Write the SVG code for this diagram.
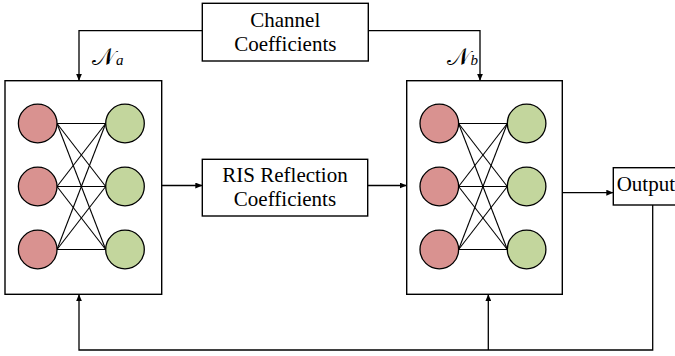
<svg xmlns="http://www.w3.org/2000/svg" width="675" height="356" viewBox="0 0 675 356">
  <defs>
    <marker id="arrow" markerWidth="7" markerHeight="6" refX="7" refY="3" orient="auto" markerUnits="userSpaceOnUse">
      <path d="M0,0 L7,3 L0,6 Z" fill="#000"/>
    </marker>
    <style>
      .box { fill: #fff; stroke: #000; stroke-width: 1.4; }
      .wire { fill: none; stroke: #000; stroke-width: 1.3; }
      .edge { stroke: #000; stroke-width: 1.1; }
      .in { fill: #d99290; stroke: #000; stroke-width: 1.3; }
      .out { fill: #c3d69d; stroke: #000; stroke-width: 1.3; }
      .label { font-family: "Liberation Serif", "Times New Roman", serif; font-size: 21px; fill: #000; text-anchor: middle; }
      .math { font-family: "DejaVu Serif", "Liberation Serif", serif; font-size: 24px; fill: #000; }
      .sub { font-family: "Liberation Serif", serif; font-size: 15px; font-style: italic; }
    </style>
    <!-- one fully connected 3x3 layer, drawn at the origin of its container -->
    <g id="layer">
      <g class="edge">
        <line x1="52" y1="42.5" x2="100.7" y2="42.5"/>
        <line x1="52" y1="42.5" x2="100.7" y2="105.5"/>
        <line x1="52" y1="42.5" x2="100.7" y2="168.5"/>
        <line x1="52" y1="105.5" x2="100.7" y2="42.5"/>
        <line x1="52" y1="105.5" x2="100.7" y2="105.5"/>
        <line x1="52" y1="105.5" x2="100.7" y2="168.5"/>
        <line x1="52" y1="168.5" x2="100.7" y2="42.5"/>
        <line x1="52" y1="168.5" x2="100.7" y2="105.5"/>
        <line x1="52" y1="168.5" x2="100.7" y2="168.5"/>
      </g>
      <circle class="in" cx="32.7" cy="42.5" r="19.3"/>
      <circle class="in" cx="32.7" cy="105.5" r="19.3"/>
      <circle class="in" cx="32.7" cy="168.5" r="19.3"/>
      <circle class="out" cx="120" cy="42.5" r="19.3"/>
      <circle class="out" cx="120" cy="105.5" r="19.3"/>
      <circle class="out" cx="120" cy="168.5" r="19.3"/>
    </g>
  </defs>

  <g id="connectors">
    <!-- channel coefficients feed both networks -->
    <polyline class="wire" points="202.3,30.7 79,30.7 79,80.7" marker-end="url(#arrow)"/>
    <polyline class="wire" points="368.3,30.7 480,30.7 480,80.7" marker-end="url(#arrow)"/>
    <!-- forward path -->
    <line class="wire" x1="161.7" y1="185.5" x2="202.3" y2="185.5" marker-end="url(#arrow)"/>
    <line class="wire" x1="367.7" y1="185.5" x2="406.7" y2="185.5" marker-end="url(#arrow)"/>
    <line class="wire" x1="562.3" y1="192.7" x2="613.3" y2="192.7" marker-end="url(#arrow)"/>
    <!-- feedback loop -->
    <polyline class="wire" points="652.7,205 652.7,350 79,350 79,294.3" marker-end="url(#arrow)"/>
    <line class="wire" x1="488.3" y1="350" x2="488.3" y2="294.3" marker-end="url(#arrow)"/>
  </g>

  <g id="channel">
    <rect class="box" x="202.3" y="3.3" width="166" height="57.7"/>
    <text class="label" x="285.3" y="26.7">Channel</text>
    <text class="label" x="285.3" y="50.7">Coefficients</text>
  </g>

  <g id="ris">
    <rect class="box" x="202.3" y="159.3" width="165.4" height="56.7"/>
    <text class="label" x="285" y="181.7">RIS Reflection</text>
    <text class="label" x="285" y="206">Coefficients</text>
  </g>

  <g id="net-a">
    <rect class="box" x="5" y="80.7" width="156.7" height="213.6"/>
    <use href="#layer" x="5" y="81"/>
    <text class="math" x="92" y="65">𝒩<tspan class="sub" dx="1">a</tspan></text>
  </g>

  <g id="net-b">
    <rect class="box" x="406.7" y="80.7" width="155.6" height="213.6"/>
    <use href="#layer" x="406.6" y="81"/>
    <text class="math" x="446.5" y="65">𝒩<tspan class="sub" dx="1">b</tspan></text>
  </g>

  <g id="output">
    <rect class="box" x="613.3" y="167.7" width="70" height="37.3"/>
    <text class="label" x="616.7" y="191" style="text-anchor:start">Output</text>
  </g>
</svg>
